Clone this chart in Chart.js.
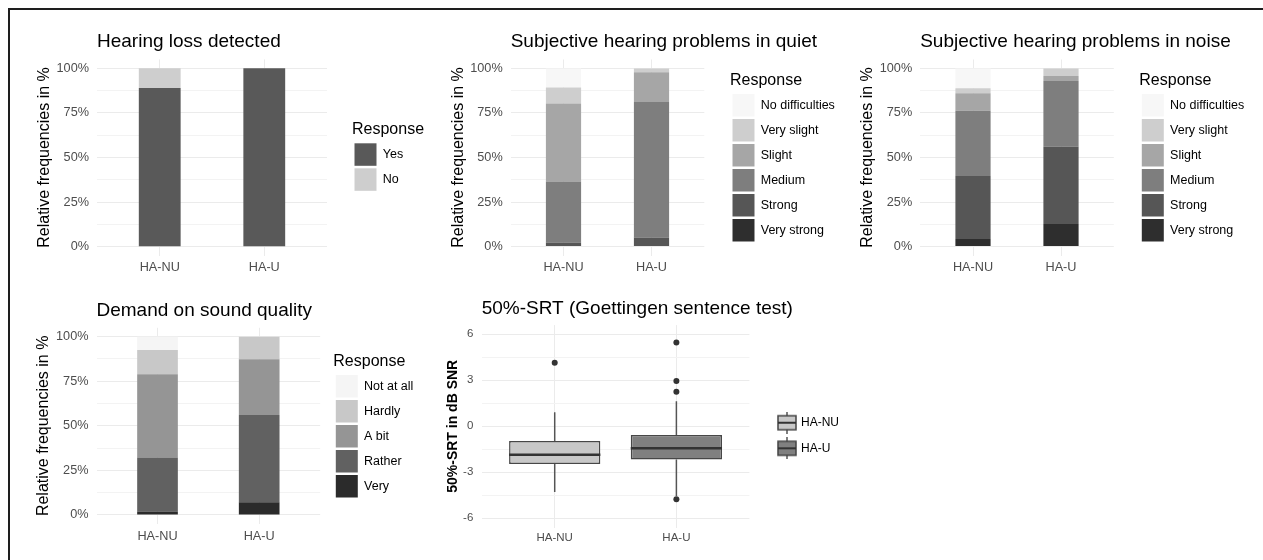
<!DOCTYPE html>
<html>
<head>
<meta charset="utf-8">
<title>Hearing aid use: questionnaire and SRT</title>
<script src="https://cdn.jsdelivr.net/npm/chart.js"></script>
<style>
  html, body { margin: 0; padding: 0; background: #fff; }
  body { width: 1263px; height: 560px; position: relative; overflow: hidden; }
  .frame { position: absolute; left: 8px; top: 8px; right: 0; bottom: 0; border-top: 2px solid #1e1e1e; border-left: 2px solid #1e1e1e; }
  canvas { position: absolute; }
</style>
</head>
<body>
<div class="frame"></div>
<canvas id="detected" width="415" height="260" style="left:10px;top:20px"></canvas>
<canvas id="quiet" width="422" height="260" style="left:428px;top:20px"></canvas>
<canvas id="noise" width="413" height="260" style="left:850px;top:20px"></canvas>
<canvas id="demand" width="415" height="270" style="left:10px;top:285px"></canvas>
<canvas id="srt" width="420" height="270" style="left:428px;top:285px"></canvas>

<script>
// --- data -----------------------------------------------------------

const GROUPS = ['HA-NU', 'HA-U'];
const PCT_TICKS = [0, 12.5, 25, 37.5, 50, 62.5, 75, 87.5, 100];
const SRT_TICKS = [-6, -4.5, -3, -1.5, 0, 1.5, 3, 4.5, 6];

// Hearing loss detected (% per group), bottom -> top
const DETECTED_LEVELS = ['Yes', 'No'];
const DETECTED_HA_NU = [89, 11];
const DETECTED_HA_U = [100, 0];

// Subjective hearing problems, bottom -> top of the stack
const PROBLEM_LEVELS = ['Very strong', 'Strong', 'Medium', 'Slight', 'Very slight', 'No difficulties'];
const QUIET_HA_NU = [0, 2.3, 34.3, 43.7, 9.0, 10.7];
const QUIET_HA_U = [0, 5.1, 76.1, 16.7, 2.1, 0];
const NOISE_HA_NU = [4.3, 35.3, 36.7, 9.7, 2.8, 11.2];
const NOISE_HA_U = [12.7, 43.4, 36.8, 2.8, 4.3, 0];

// Demand on sound quality
const DEMAND_LEVELS = ['Very', 'Rather', 'A bit', 'Hardly', 'Not at all'];
const DEMAND_HA_NU = [1.9, 30.4, 46.6, 13.6, 7.5];
const DEMAND_HA_U = [7.1, 49.0, 31.2, 12.7, 0];

// 50%-SRT box plot (dB SNR)
const SRT_LOWER = [-4.28, -4.55];
const SRT_Q1 = [-2.46, -2.17];
const SRT_MEDIAN = [-1.85, -1.43];
const SRT_Q3 = [-0.96, -0.57];
const SRT_UPPER = [0.91, 1.63];
const SRT_OUTLIERS_HA_NU = [4.15];
const SRT_OUTLIERS_HA_U = [5.46, 2.96, 2.26, -4.76];

// --- styles ---------------------------------------------------------

const DETECTED_COLORS = ['#595959', '#cecece'];
const PROBLEM_COLORS = ['#2e2e2e', '#565656', '#7e7e7e', '#a6a6a6', '#cecece', '#f7f7f7'];
const DEMAND_COLORS = ['#2b2b2b', '#616161', '#959595', '#c8c8c8', '#f5f5f5'];
const BOX_FILLS = ['#c8c8c8', '#808080'];
const BOX_HALF = 0.375;

Chart.defaults.font.family = "'Liberation Sans', Arial, Helvetica, sans-serif";
Chart.defaults.color = '#4d4d4d';
Chart.defaults.animation = false;

// panel geometry in canvas pixels (plot panel edges, title / label centres)
const GEOM = {
  detected: { left: 87, right: 317, top: 39.4, bottom: 235.6, titleY: 22.2, yTitle: 34.5, xPad: 4.6, gap: 25, keyTop: 123.3 },
  quiet:    { left: 82.7, right: 276.3, top: 39.5, bottom: 235.5, titleY: 22, yTitle: 30.2, xPad: 4.6, gap: 25.7, keyTop: 74 },
  noise:    { left: 70.2, right: 263.8, top: 39.5, bottom: 235.5, titleY: 22, yTitle: 17.7, xPad: 4.6, gap: 25.5, keyTop: 74 },
  demand:   { left: 86.5, right: 310.2, top: 42.8, bottom: 238.9, titleY: 25.3, yTitle: 34, xPad: 4.6, gap: 13.1, keyTop: 90 },
  srt:      { left: 53.7, right: 321.4, top: 40.1, bottom: 242.5, titleY: 23.8, yTitle: 25.3, xPad: 3.9, gap: 16, keyTop: 131.7 }
};
const LEGEND_W = 40;

// legend and title keep the layout width they were given, but may draw
// past it (otherwise Chart.js clips / squeezes the text)
const widenBoxes = {
  id: 'widenBoxes',
  afterLayout(chart) {
    [chart.legend, chart.titleBlock].forEach(box => {
      if (box) {
        box.right = chart.width;
        box.width = box.right - box.left;
      }
    });
  }
};

// --- helpers --------------------------------------------------------

function groupAxis(height, fontSize, pad) {
  return {
    type: 'linear', min: 0.4, max: 2.6, stacked: true, offset: false,
    afterBuildTicks: s => { s.ticks = GROUPS.map((g, i) => ({ value: i + 1 })); },
    afterFit: s => { s.height = height; },
    ticks: { callback: v => GROUPS[v - 1], font: { size: fontSize }, padding: pad, autoSkip: false, maxRotation: 0 },
    grid: { color: '#ebebeb', drawTicks: false, offset: false },
    border: { display: false }
  };
}

function valueAxis(opts) {
  return {
    type: 'linear', min: opts.min, max: opts.max, stacked: opts.stacked,
    afterBuildTicks: s => { s.ticks = opts.ticks.map(v => ({ value: v })); },
    afterFit: s => { s.width = opts.width; },
    ticks: { callback: opts.label, font: { size: opts.fontSize }, padding: opts.pad, autoSkip: false },
    grid: {
      color: c => (c.tick && opts.isMajor(c.tick.value) ? '#ebebeb' : '#f3f3f3'),
      drawTicks: false
    },
    border: { display: false },
    title: {
      display: true, text: opts.title, color: '#000', font: opts.titleFont,
      padding: { top: opts.titlePad, bottom: 0 }
    }
  };
}

function gapAxis(width) {
  return {
    type: 'linear', position: 'right', display: true,
    afterFit: s => { s.width = width; },
    ticks: { display: false }, grid: { display: false }, border: { display: false }
  };
}

function titleOpts(text, g) {
  const top = g.titleY - 11.4;
  return {
    display: true, text: text, align: 'start', fullSize: false, color: '#000',
    font: { size: 19, weight: 'normal' },
    padding: { top: top, bottom: g.top - 22.8 - top }
  };
}

function responseLegend(g, reverse) {
  return {
    position: 'right', align: 'start', reverse: reverse, maxWidth: LEGEND_W,
    title: {
      display: true, text: 'Response', color: '#000', position: 'start',
      font: { size: 16 }, padding: { top: g.keyTop - 21.7, bottom: 0 }
    },
    labels: { color: '#000', font: { size: 12.5 }, boxWidth: 22, boxHeight: 22.5, padding: 2.5 }
  };
}

function stackedChart(id, title, levels, colors, perGroup, reverse) {
  const canvas = document.getElementById(id);
  const g = GEOM[id];
  return new Chart(canvas, {
    type: 'bar',
    data: {
      datasets: levels.map((level, i) => ({
        label: level,
        data: perGroup.map((vals, k) => ({ x: k + 1, y: vals[i] })),
        backgroundColor: colors[i],
        borderWidth: 0,
        barPercentage: 0.4,
        categoryPercentage: 1
      }))
    },
    options: {
      responsive: false,
      layout: { padding: { left: 0, top: 0, bottom: 0, right: canvas.width - g.right - g.gap - LEGEND_W } },
      scales: {
        x: groupAxis(canvas.height - g.bottom, 12.7, g.xPad),
        y: valueAxis({
          min: -5, max: 105, stacked: true, ticks: PCT_TICKS, width: g.left,
          label: v => (v % 25 === 0 ? v + '%' : ''), isMajor: v => v % 25 === 0,
          fontSize: 12.7, pad: 8, title: 'Relative frequencies in %',
          titleFont: { size: 16 }, titlePad: g.yTitle - 9.6
        }),
        yGap: gapAxis(g.gap)
      },
      plugins: {
        title: titleOpts(title, g),
        legend: responseLegend(g, reverse),
        tooltip: { enabled: false }
      }
    },
    plugins: [widenBoxes]
  });
}

// small box-and-whisker key for the SRT legend
function boxGlyph(fill) {
  const c = document.createElement('canvas');
  c.width = 20; c.height = 22;
  const ctx = c.getContext('2d');
  ctx.strokeStyle = '#555'; ctx.lineWidth = 1.5;
  ctx.beginPath(); ctx.moveTo(10, 0); ctx.lineTo(10, 22); ctx.stroke();
  ctx.fillStyle = fill;
  ctx.fillRect(1, 4, 18, 14);
  ctx.strokeStyle = '#444';
  ctx.strokeRect(1, 4, 18, 14);
  ctx.strokeStyle = '#333'; ctx.lineWidth = 2;
  ctx.beginPath(); ctx.moveTo(1, 11); ctx.lineTo(19, 11); ctx.stroke();
  return c;
}

// --- charts ---------------------------------------------------------

stackedChart('detected', 'Hearing loss detected', DETECTED_LEVELS, DETECTED_COLORS,
  [DETECTED_HA_NU, DETECTED_HA_U], false);
stackedChart('quiet', 'Subjective hearing problems in quiet', PROBLEM_LEVELS, PROBLEM_COLORS,
  [QUIET_HA_NU, QUIET_HA_U], true);
stackedChart('noise', 'Subjective hearing problems in noise', PROBLEM_LEVELS, PROBLEM_COLORS,
  [NOISE_HA_NU, NOISE_HA_U], true);
stackedChart('demand', 'Demand on sound quality', DEMAND_LEVELS, DEMAND_COLORS,
  [DEMAND_HA_NU, DEMAND_HA_U], true);

(function srtChart() {
  const canvas = document.getElementById('srt');
  const g = GEOM.srt;
  const outliers = [SRT_OUTLIERS_HA_NU, SRT_OUTLIERS_HA_U];
  const glyphs = BOX_FILLS.map(boxGlyph);

  new Chart(canvas, {
    type: 'bar',
    data: {
      datasets: [
        {
          type: 'scatter', label: 'outliers',
          data: outliers.flatMap((vals, i) => vals.map(v => ({ x: i + 1, y: v }))),
          pointRadius: 3, pointBackgroundColor: '#333', pointBorderWidth: 0
        },
        ...GROUPS.map((grp, i) => ({
          type: 'line', label: grp + ' median',
          data: [{ x: i + 1 - BOX_HALF, y: SRT_MEDIAN[i] }, { x: i + 1 + BOX_HALF, y: SRT_MEDIAN[i] }],
          borderColor: '#333', borderWidth: 2.5, pointRadius: 0
        })),
        {
          type: 'bar', label: 'box',
          data: GROUPS.map((grp, i) => ({ x: i + 1, y: [SRT_Q1[i], SRT_Q3[i]] })),
          backgroundColor: BOX_FILLS, borderColor: '#474747', borderWidth: 1.5,
          borderSkipped: false, barPercentage: 0.75, categoryPercentage: 1
        },
        ...GROUPS.map((grp, i) => ({
          type: 'line', label: grp + ' whiskers',
          data: [
            { x: i + 1, y: SRT_Q3[i] }, { x: i + 1, y: SRT_UPPER[i] }, { x: i + 1, y: null },
            { x: i + 1, y: SRT_Q1[i] }, { x: i + 1, y: SRT_LOWER[i] }
          ],
          borderColor: '#555', borderWidth: 1.5, pointRadius: 0, spanGaps: false
        }))
      ]
    },
    options: {
      responsive: false,
      layout: { padding: { left: 0, top: 0, bottom: 0, right: canvas.width - g.right - g.gap - 30 } },
      scales: {
        x: groupAxis(canvas.height - g.bottom, 11.5, g.xPad),
        y: valueAxis({
          min: -6.6, max: 6.6, stacked: false, ticks: SRT_TICKS, width: g.left,
          label: v => (v % 3 === 0 ? String(v) : ''), isMajor: v => v % 3 === 0,
          fontSize: 11.5, pad: 8.4, title: '50%-SRT in dB SNR',
          titleFont: { size: 14, weight: 'bold' }, titlePad: g.yTitle - 8.4
        }),
        yGap: gapAxis(g.gap)
      },
      plugins: {
        title: titleOpts('50%-SRT (Goettingen sentence test)', g),
        legend: {
          position: 'right', align: 'start', maxWidth: 30,
          title: { display: true, text: '', font: { size: 12 }, padding: { top: g.keyTop - 13.6 - 14.4, bottom: 0 } },
          labels: {
            usePointStyle: true, pointStyleWidth: 16, padding: 13.6,
            color: '#000', font: { size: 12 },
            generateLabels: () => GROUPS.map((grp, i) => ({
              text: grp, pointStyle: glyphs[i], fillStyle: BOX_FILLS[i],
              strokeStyle: '#444', lineWidth: 0, fontColor: '#000', hidden: false, datasetIndex: 3
            }))
          }
        },
        tooltip: { enabled: false }
      }
    },
    plugins: [widenBoxes]
  });
})();
</script>
</body>
</html>
